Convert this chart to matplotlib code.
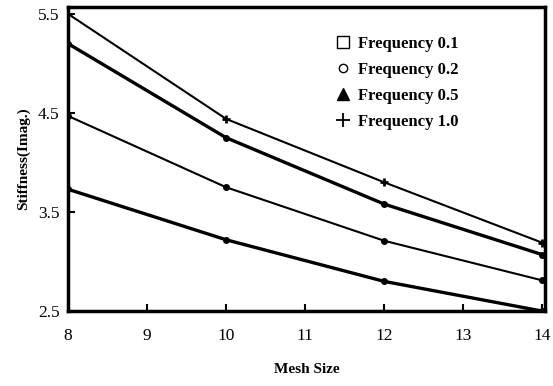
import matplotlib
matplotlib.use('Agg')
import matplotlib.pyplot as plt
from matplotlib.lines import Line2D

plt.rcParams['font.family'] = ['Liberation Serif', 'DejaVu Serif']

mesh = [8, 10, 12, 14]
freq_01 = [3.73, 3.22, 2.80, 2.50]
freq_02 = [4.47, 3.75, 3.21, 2.81]
freq_05 = [5.20, 4.25, 3.58, 3.07]
freq_10 = [5.50, 4.44, 3.80, 3.19]
labels = ['Frequency 0.1', 'Frequency 0.2', 'Frequency 0.5', 'Frequency 1.0']

fig = plt.figure(figsize=(5.53, 3.86), dpi=100)
ax = fig.add_axes([0.123, 0.194, 0.862, 0.788])

ax.plot(mesh, freq_01, color='black', lw=2.4, marker='o', ms=4)
ax.plot(mesh, freq_02, color='black', lw=1.5, marker='o', ms=4)
ax.plot(mesh, freq_05, color='black', lw=2.4, marker='o', ms=4)
ax.plot(mesh, freq_10, color='black', lw=1.5, marker='+', ms=6, mew=2)

ax.set_xlim(8, 14.03)
ax.set_ylim(2.5, 5.57)
ax.set_xticks([8, 9, 10, 11, 12, 13, 14])
ax.set_yticks([2.5, 3.5, 4.5, 5.5])
ax.set_yticklabels(['2.5', '3.5', '4.5', '5.5'])
ax.tick_params(direction='in', length=5, width=1.5, labelsize=12.5)
ax.tick_params(axis='x', pad=12)
ax.tick_params(axis='y', pad=6)
for s in ax.spines.values():
    s.set_linewidth(2.5)

ax.set_xlabel('Mesh Size', fontsize=11, fontweight='bold', labelpad=14)
ax.set_ylabel('Stiffness(Imag.)', fontsize=11, fontweight='bold', labelpad=6)

handles = [
    Line2D([], [], ls='none', marker='s', mfc='white', mec='black', ms=9, mew=1),
    Line2D([], [], ls='none', marker='o', mfc='white', mec='black', ms=6, mew=1),
    Line2D([], [], ls='none', marker='^', mfc='black', mec='black', ms=9),
    Line2D([], [], ls='none', marker='+', color='black', ms=10, mew=1.3),
]
ax.legend(handles, labels, loc='upper right', bbox_to_anchor=(0.85, 0.955),
          frameon=False, prop={'weight': 'bold', 'size': 12},
          handletextpad=0.3, handlelength=1.2, labelspacing=0.6)

fig.savefig('out.png')
